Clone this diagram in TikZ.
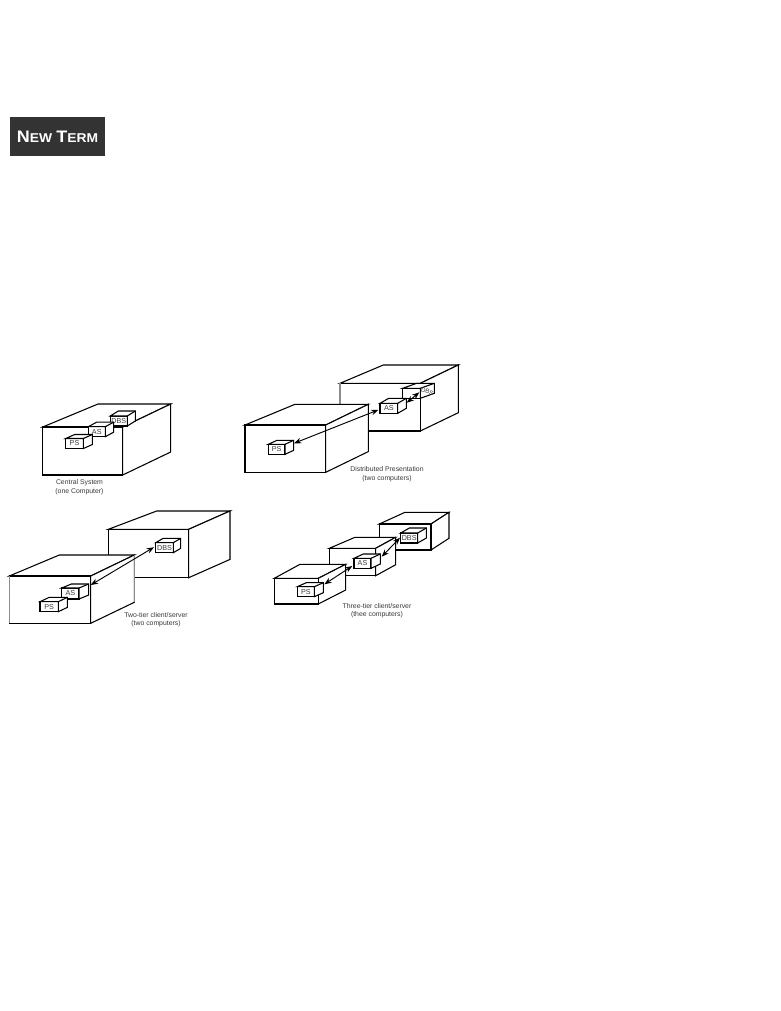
\documentclass[tikz,border=0pt]{standalone}
\usepackage{fontspec}
\setmainfont{Liberation Sans}
\usetikzlibrary{arrows.meta}
\definecolor{termbg}{HTML}{333333}
\definecolor{capgray}{HTML}{3A3A3A}
\tikzset{
  bigline/.style={draw=black,fill=white,line width=0.8pt,line join=miter},
  smline/.style={draw=black,fill=white,line width=0.8pt},
  smbox/.style={smline,inner sep=0pt,outer sep=0pt,font=\fontsize{5.4pt}{6pt}\selectfont,text=capgray},
  captext/.style={font=\fontsize{5.15pt}{6.4pt}\selectfont,text=capgray,align=center,inner sep=0pt},
  link/.style={black,line width=0.7pt,{Stealth[length=5.5pt,width=4.2pt]}-{Stealth[length=5.5pt,width=4.2pt]}},
  thinedge/.style={draw=black!45,line width=0.85pt}
}
% x1 y1 x2 y2 dx dy backleftx
\newcommand{\bigbox}[7]{%
  \path[bigline] (#1,#2) -- (#7,#2+#6) -- ({#3+#5},#2+#6) -- (#3,#2) -- cycle;
  \path[bigline] (#3,#2) -- ++(#5,#6) -- ++(0,#4-#2) -- ++(-#5,-#6) -- cycle;
  \path[bigline] (#1,#2) rectangle (#3,#4);
}
% name x y w h dx dy label
\newcommand{\smallbox}[8]{%
  \node[smbox,minimum width=#4*0.75pt,minimum height=#5*0.75pt] (#1) at ({#2+#4/2},{#3+#5/2}) {#8};
  \path[smline] (#1.north west) -- ++(#6,#7) -- ++(#4,0) -- ++(0,#5) -- ++(-#6,-#7) -- (#1.north east) -- cycle;
  \draw[line width=0.8pt] (#1.north east) -- ++(#6,#7);
}
\begin{document}
\begin{tikzpicture}[x=0.75pt,y=-0.75pt]
\useasboundingbox (0,0) rectangle (781,1011);
\fill[white] (0,0) rectangle (781,1011);
% New Term badge
\node[fill=termbg,minimum width=71.25pt,minimum height=29.25pt,inner sep=0pt,outer sep=0pt] (badge) at (57.5,136.5) {};
\node[text=white,font=\bfseries,xscale=1.08,transform shape,inner sep=0pt] (badgetext) at (57.5,136.5)
  {\fontsize{12.5pt}{14pt}\selectfont N\fontsize{9.6pt}{14pt}\selectfont EW\hspace{3pt}\fontsize{12.5pt}{14pt}\selectfont T\fontsize{9.6pt}{14pt}\selectfont ERM};
% Central system
\bigbox{42.7}{427}{122.7}{475}{48}{-23}{98}
\smallbox{cdbs}{110.3}{416}{17}{10}{8}{-5}{DBS}
\smallbox{cas}{88.3}{426.7}{17}{10}{8.3}{-4.5}{AS}
\smallbox{cps}{65.7}{438.5}{17.7}{10}{9}{-4}{PS}
\node[captext] (ccap) at (79.5,487) {Central System\\(one Computer)};
% Distributed presentation
\bigbox{340}{383.3}{420.3}{431}{38}{-18.3}{383.3}
\draw[thinedge] (340,383.3) -- (340,431);
\smallbox{ddbs}{402.7}{388.3}{17.6}{10}{14}{-5}{}
\node[smbox,draw=none,fill=none,rotate=-20,font=\fontsize{4.6pt}{5pt}\selectfont] (ddbsl) at (427.3,391.5) {DBS};
\smallbox{das}{380}{403.3}{17.7}{10}{8.7}{-5}{AS}
\bigbox{245}{425}{325.7}{472.3}{42.6}{-20.7}{295}
\smallbox{dps}{268.3}{444.3}{16.7}{10}{8.7}{-4}{PS}
\draw[link] ([shift={(9,-6)}]dps.east) -- ([shift={(-1.5,1.5)}]das.west);
\draw[link] ([shift={(9,-5.5)}]das.east) -- ([shift={(-1,-1)}]ddbs.east);
\node[captext] (dcap) at (387,474) {Distributed Presentation\\(two computers)};
% Two-tier
\bigbox{108.3}{529.3}{188.7}{577.7}{41.3}{-18.3}{156.7}
\smallbox{tdbs}{155.7}{542.7}{17.6}{10}{7.3}{-4.3}{DBS}
\bigbox{9.3}{576}{90.7}{623.3}{43.6}{-21}{59.3}
\draw[thinedge] (134.3,555) -- (134.3,602.3);
\draw[thinedge] (9.3,576) -- (9.3,623.3);
\smallbox{tas}{61.7}{588}{17.3}{11}{9.7}{-4}{AS}
\smallbox{tps}{40}{601.7}{18.3}{10}{9}{-4.3}{PS}
\draw[link] ([shift={(11.7,-8.5)}]tas.east) -- ([shift={(-1.7,-0.5)}]tdbs.west);
\node[captext] (tcap) at (156,619.5) {Two-tier client/server\\(two computers)};
% Three-tier
\bigbox{379.3}{524}{431}{550}{18}{-11.7}{405}
\smallbox{hdbs}{400.7}{533}{17}{10}{8.7}{-5}{DBS}
\bigbox{329.3}{548.3}{375.7}{575.7}{20}{-11}{355}
\smallbox{has}{354}{558.3}{17}{10}{9.3}{-4.3}{AS}
\bigbox{274.3}{578.3}{318.3}{604}{27.4}{-14}{300}
\smallbox{hps}{297.3}{586.7}{17}{10}{9}{-4}{PS}
\draw[link] ([shift={(10,-7.4)}]hps.east) -- ([shift={(-1.7,2.7)}]has.west);
\draw[link] ([shift={(10.7,-6.6)}]has.east) -- ([shift={(-0.7,-0.3)}]hdbs.west);
\node[captext] (hcap) at (377,610.5) {Three-tier client/server\\(thee computers)};
\end{tikzpicture}
\end{document}
